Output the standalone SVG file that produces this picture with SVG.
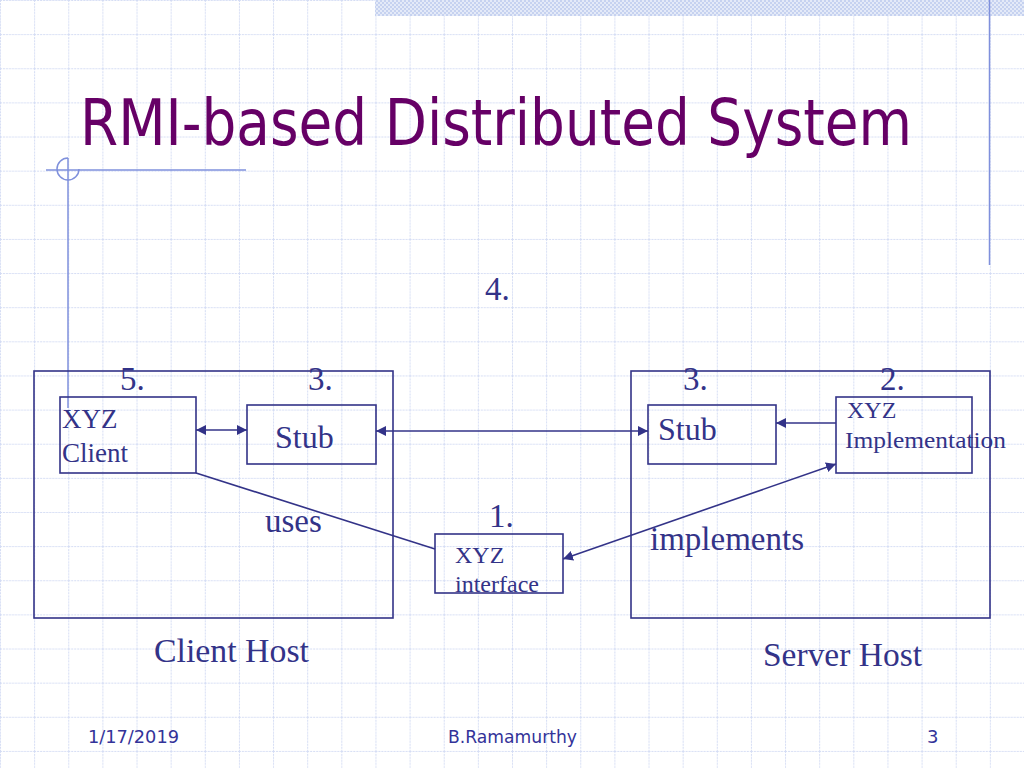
<svg xmlns="http://www.w3.org/2000/svg" width="1024" height="768" viewBox="0 0 1024 768">
<defs>
<pattern id="grid" x="0" y="0" width="34.133" height="34.133" patternUnits="userSpaceOnUse">
<line x1="0" y1="0.5" x2="34.133" y2="0.5" stroke="#d4dcf4" stroke-width="1" stroke-dasharray="2,1"/>
<line x1="0.5" y1="0" x2="0.5" y2="34.133" stroke="#d4dcf4" stroke-width="1" stroke-dasharray="2,1"/>
</pattern>
<pattern id="check" x="0" y="0" width="4" height="4" patternUnits="userSpaceOnUse">
<rect width="4" height="4" fill="#e4eaf8"/>
<rect width="2" height="2" fill="#c6d2f0"/>
<rect x="2" y="2" width="2" height="2" fill="#c6d2f0"/>
</pattern>
<marker id="arr" viewBox="0 0 10 10" refX="10" refY="5" markerWidth="10" markerHeight="10" markerUnits="userSpaceOnUse" orient="auto-start-reverse">
<path d="M0,0 L10,5 L0,10 z" fill="#333388"/>
</marker>
<style>
.box{fill:none;stroke:#333388;stroke-width:1.6}
.con{fill:none;stroke:#333388;stroke-width:1.6}
.deco{fill:none;stroke:#7f90dc;stroke-width:1.5}
.t{font-family:"Liberation Serif","Times New Roman",serif;fill:#333388}
.s{font-family:"DejaVu Sans",Verdana,sans-serif;fill:#333399}
</style>
</defs>
<rect width="1024" height="768" fill="#ffffff"/>
<rect width="1024" height="768" fill="url(#grid)"/>
<rect x="375" y="0" width="649" height="16" fill="url(#check)"/>
<line class="deco" x1="989.5" y1="0" x2="989.5" y2="265" stroke-width="2"/>
<g id="decoration">
<line class="deco" x1="46" y1="170" x2="246" y2="170"/>
<line class="deco" x1="68" y1="158" x2="68" y2="408"/>
<path class="deco" d="M68,158 A11,11 0 1,0 79,169"/>
</g>
<text id="title" x="80" y="145" font-family="DejaVu Sans Condensed, DejaVu Sans, sans-serif" font-size="64" fill="#660066" textLength="832" lengthAdjust="spacingAndGlyphs">RMI-based Distributed System</text>

<g id="client-host">
<rect class="box" x="34" y="371" width="359" height="247"/>
<text class="t" x="154" y="662" font-size="34" textLength="155" lengthAdjust="spacingAndGlyphs">Client Host</text>
</g>
<g id="server-host">
<rect class="box" x="631" y="371" width="359" height="247"/>
<text class="t" x="763" y="666" font-size="34" textLength="159" lengthAdjust="spacingAndGlyphs">Server Host</text>
</g>
<g id="xyz-client">
<rect class="box" x="60" y="397" width="136" height="76"/>
<text class="t" x="62" y="428" font-size="27">XYZ</text>
<text class="t" x="62" y="462" font-size="27">Client</text>
</g>
<g id="client-stub">
<rect class="box" x="247" y="405" width="129" height="59"/>
<text class="t" x="275" y="448" font-size="32">Stub</text>
</g>
<g id="server-stub">
<rect class="box" x="648" y="405" width="128" height="59"/>
<text class="t" x="658" y="440" font-size="32">Stub</text>
</g>
<g id="xyz-implementation">
<rect class="box" x="836" y="397" width="136" height="76"/>
<text class="t" x="847" y="418" font-size="24">XYZ</text>
<text class="t" x="845" y="448" font-size="24" textLength="161" lengthAdjust="spacingAndGlyphs">Implementation</text>
</g>
<g id="xyz-interface">
<rect class="box" x="435" y="534" width="128" height="59"/>
<text class="t" x="455" y="563" font-size="24">XYZ</text>
<text class="t" x="455" y="592" font-size="24">interface</text>
</g>

<g id="connectors">
<line class="con" x1="196" y1="430" x2="247" y2="430" marker-start="url(#arr)" marker-end="url(#arr)"/>
<line class="con" x1="376" y1="431" x2="648" y2="431" marker-start="url(#arr)" marker-end="url(#arr)"/>
<line class="con" x1="836" y1="423" x2="776" y2="423" marker-end="url(#arr)"/>
<line class="con" x1="196" y1="473" x2="435" y2="549"/>
<line class="con" x1="563" y1="559" x2="836" y2="464" marker-start="url(#arr)" marker-end="url(#arr)"/>
</g>

<g id="labels">
<text class="t" x="485" y="300" font-size="33">4.</text>
<text class="t" x="120" y="390" font-size="33">5.</text>
<text class="t" x="308" y="390" font-size="33">3.</text>
<text class="t" x="683" y="390" font-size="33">3.</text>
<text class="t" x="880" y="390" font-size="33">2.</text>
<text class="t" x="489" y="527" font-size="33">1.</text>
<text class="t" x="265" y="532" font-size="33">uses</text>
<text class="t" x="650" y="550" font-size="33">implements</text>
</g>

<g id="footer">
<text class="s" x="88" y="743" font-size="18" textLength="91" lengthAdjust="spacingAndGlyphs">1/17/2019</text>
<text class="s" x="448" y="743" font-size="18" textLength="129" lengthAdjust="spacingAndGlyphs">B.Ramamurthy</text>
<text class="s" x="927" y="743" font-size="18">3</text>
</g>
</svg>
